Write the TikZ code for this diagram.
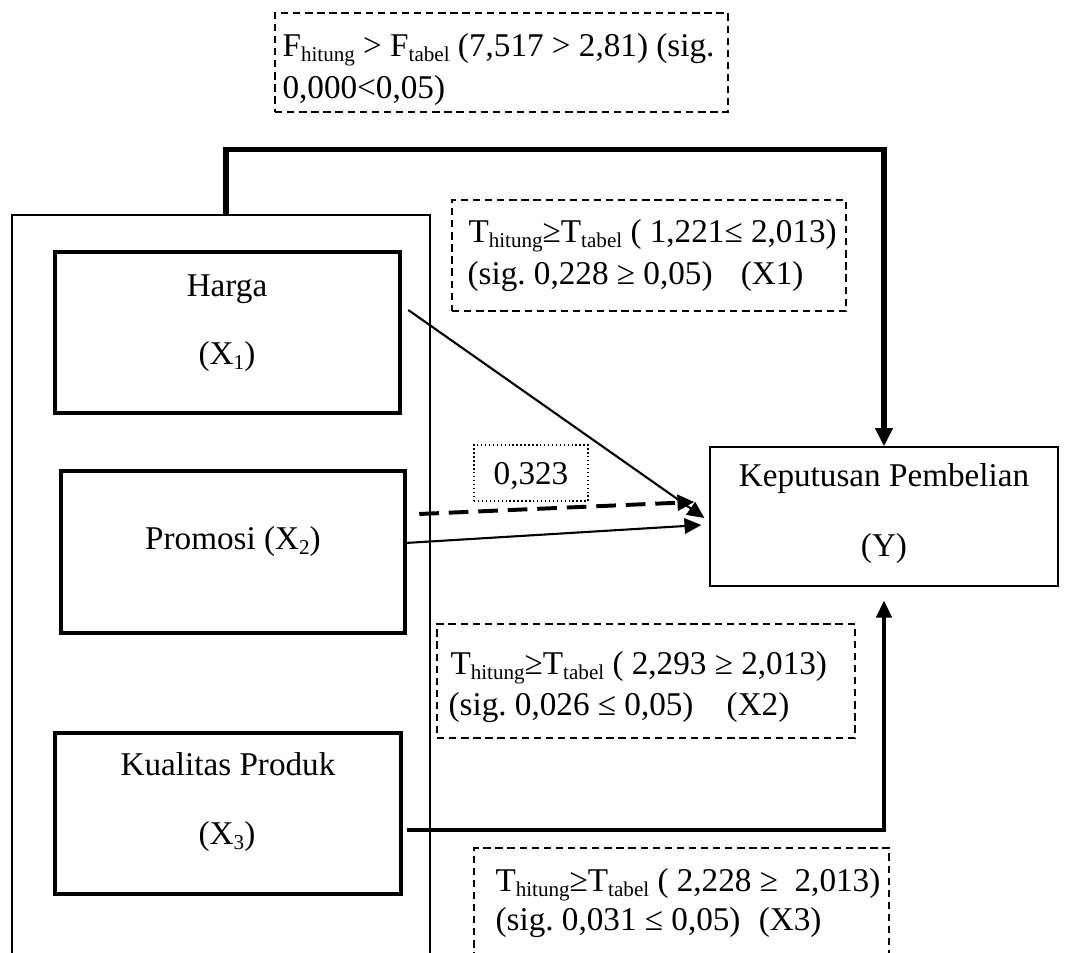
\documentclass[tikz,border=0pt]{standalone}
\usepackage{fontspec}
\setmainfont{Liberation Serif}
\usetikzlibrary{positioning}
\usetikzlibrary{arrows.meta}
\usetikzlibrary{calc}
\usetikzlibrary{fit}
\newcommand{\subtxt}[1]{\raisebox{-1.7pt}{\fontsize{7.5}{8}\selectfont #1}}
\frenchspacing
\tikzset{x=0.0125cm, y=-0.0125cm,
    every node/.style={
        font=\fontsize{11.8}{14}\selectfont,
        inner sep=0pt},
    varbox/.style={
        draw,
        line width=1.6pt},
    thinbox/.style={
        draw,
        line width=0.45pt},
    testbox/.style={
        draw,
        line width=0.45pt,
        dash pattern=on 2.6pt off 1.7pt},
    coefbox/.style={
        draw,
        line width=0.45pt,
        dash pattern=on 0.5pt off 0.9pt},
    txt/.style={anchor=base west},
    mid/.style={anchor=base},
    link/.style={
        draw,
        line width=0.75pt,
        -{Triangle[length=6pt,width=5.5pt]}},
    simlink/.style={
        draw,
        line width=1.8pt,
        -{Triangle[length=6.5pt,width=6pt]}}}

\begin{document}
\begin{tikzpicture}
    \useasboundingbox (0,0) rectangle (1070,953);
    \clip (0,0) rectangle (1070,953);

    % boxes
    \node[thinbox, fit={(12,215) (430,990)}] (grp) {};
    \node[varbox, fit={(55,252) (400,413)}] (harga) {};
    \node[varbox, fit={(61,471) (405,633)}] (promosi) {};
    \node[varbox, fit={(55,733) (401,894)}] (kualitas) {};
    \node[thinbox, fit={(710,447) (1058,586)}] (kp) {};
    \node[testbox, fit={(275,13) (728,112)}] (ftest) {};
    \node[testbox, fit={(452,200) (846,311)}] (tx1) {};
    \node[testbox, fit={(437,624) (855,738)}] (tx2) {};
    \node[testbox, fit={(474,848) (889,990)}] (tx3) {};
    \node[coefbox, fit={(474,445) (588,501)}] (coef) {};

    % variable names
    \node[mid] (hname) at (227,297) {Harga};
    \node[mid] (hvar) at (227,365) {(X\subtxt{1})};
    \node[mid] (pname) at (233,550) {Promosi (X\subtxt{2})};
    \node[mid] (kname) at (228,776) {Kualitas Produk};
    \node[mid] (kvar) at (227,845) {(X\subtxt{3})};
    \node[mid] (yname) at (884,487) {Keputusan Pembelian};
    \node[mid] (yvar) at (884,557) {(Y)};
    \node[mid] (coefval) at (531,485) {0,323};

    % test results
    \node[txt] (f1) at (282,57) {F\subtxt{hitung} > F\subtxt{tabel} (7,517 > 2,81) (sig.};
    \node[txt] (f2) at (282,99) {0,000<0,05)};
    \node[txt] (t1a) at (468,243) {T\subtxt{hitung}≥T\subtxt{tabel} ( 1,221≤ 2,013)};
    \node[txt] (t1b) at (467,285) {(sig. 0,228 ≥ 0,05) \hspace{0.6em}(X1)};
    \node[txt] (t2a) at (450,675) {T\subtxt{hitung}≥T\subtxt{tabel} ( 2,293 ≥ 2,013)};
    \node[txt] (t2b) at (448,716) {(sig. 0,026 ≤ 0,05) \hspace{0.75em}(X2)};
    \node[txt] (t3a) at (495,892) {T\subtxt{hitung}≥T\subtxt{tabel} ( 2,228 ≥ \ 2,013)};
    \node[txt] (t3b) at (495,931) {(sig. 0,031 ≤ 0,05) \hspace{0.3em}(X3)};

    % connectors
    \draw[simlink] ($(grp.north)+(5,0)$) -- ++(0,-65) -| (kp.north);
    \draw[link] ($(harga.east)+(6,-22.5)$) -- ($(kp.west)+(-5,1.5)$);
    \draw[link, line width=1.4pt, dash pattern=on 7pt off 3.5pt]
        ($(promosi.east)+(12,-38)$) -- ($(kp.west)+(-15,-14.5)$);
    \draw[link] ($(promosi.east)+(-2,-9)$) -- ($(kp.west)+(-8,8.5)$);
    \draw[link, line width=1.1pt] ($(kualitas.east)+(4,16.5)$) -| ($(kp.south)+(0,14)$);
\end{tikzpicture}
\end{document}
